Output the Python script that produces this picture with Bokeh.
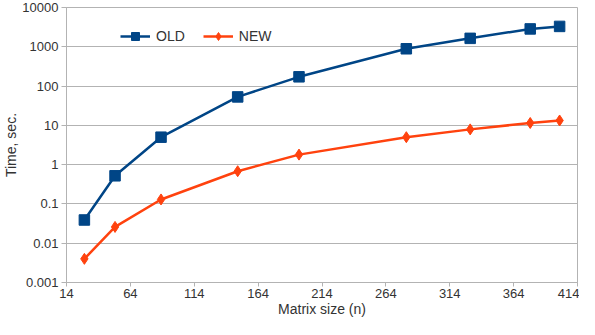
from bokeh.plotting import figure
from bokeh.models import FixedTicker, Legend, LegendItem
from bokeh.embed import file_html
from bokeh.resources import INLINE

sizes = [28, 52, 88, 148, 196, 280, 330, 377, 400]
old_times = [0.039, 0.52, 5.0, 53, 172, 890, 1640, 2850, 3300]
new_times = [0.004, 0.026, 0.13, 0.68, 1.8, 5.0, 7.9, 11.5, 13.3]

x_ticks = [14, 64, 114, 164, 214, 264, 314, 364, 414]
y_ticks = [0.001, 0.01, 0.1, 1, 10, 100, 1000, 10000]
y_labels = ["0.001", "0.01", "0.1", "1", "10", "100", "1000", "10000"]

FONT = "Liberation Sans"
GRID = "#b3b3b3"
TXT = "#333333"

p = figure(width=579, height=319, y_axis_type="log",
           x_range=(14, 414), y_range=(0.001, 10000),
           output_backend="svg", toolbar_location=None,
           min_border_left=60, min_border_right=2,
           min_border_top=7, min_border_bottom=36)

p.xaxis.ticker = FixedTicker(ticks=x_ticks)
p.yaxis.ticker = FixedTicker(ticks=y_ticks, minor_ticks=[])
p.yaxis.major_label_overrides = {t: l for t, l in zip(y_ticks, y_labels)}
p.xaxis.minor_tick_line_color = None
p.yaxis.minor_tick_line_color = None

for ax in (p.xaxis, p.yaxis):
    ax.axis_line_color = GRID
    ax.major_tick_line_color = GRID
    ax.major_tick_in = 0
    ax.major_tick_out = 5
    ax.major_label_standoff = 3
    ax.major_label_text_font = FONT
    ax.major_label_text_font_size = "13px"
    ax.major_label_text_color = TXT
    ax.axis_label_text_font = FONT
    ax.axis_label_text_font_size = "14px"
    ax.axis_label_text_font_style = "normal"
    ax.axis_label_text_color = TXT
    ax.axis_label_standoff = 0

p.xaxis.major_label_standoff = 2
p.xaxis.major_tick_out = 4

p.xaxis.axis_label = "Matrix size (n)"
p.yaxis.axis_label = "Time, sec."

p.xgrid.grid_line_color = None
p.ygrid.grid_line_color = GRID
p.ygrid.grid_line_width = 1
p.outline_line_color = GRID

OLD_C = "#004586"
NEW_C = "#ff420e"

l1 = p.line(sizes, old_times, line_color=OLD_C, line_width=2.5)
m1 = p.scatter(sizes, old_times, marker="square", size=10.5, fill_color=OLD_C, line_color=OLD_C)
l2 = p.line(sizes, new_times, line_color=NEW_C, line_width=2.5)
m2 = p.scatter(sizes, new_times, marker="diamond", size=11, fill_color=NEW_C, line_color=NEW_C)

legend = Legend(items=[LegendItem(label="OLD", renderers=[l1, m1]),
                       LegendItem(label="NEW", renderers=[l2, m2])],
                orientation="horizontal", location=(54, 236))
legend.border_line_color = None
legend.background_fill_alpha = 0
legend.label_text_font = FONT
legend.label_text_font_size = "14px"
legend.label_text_color = TXT
legend.glyph_width = 30
legend.spacing = 18
legend.label_standoff = 6
p.add_layout(legend)

open("out.html", "w").write(file_html(p, INLINE))
